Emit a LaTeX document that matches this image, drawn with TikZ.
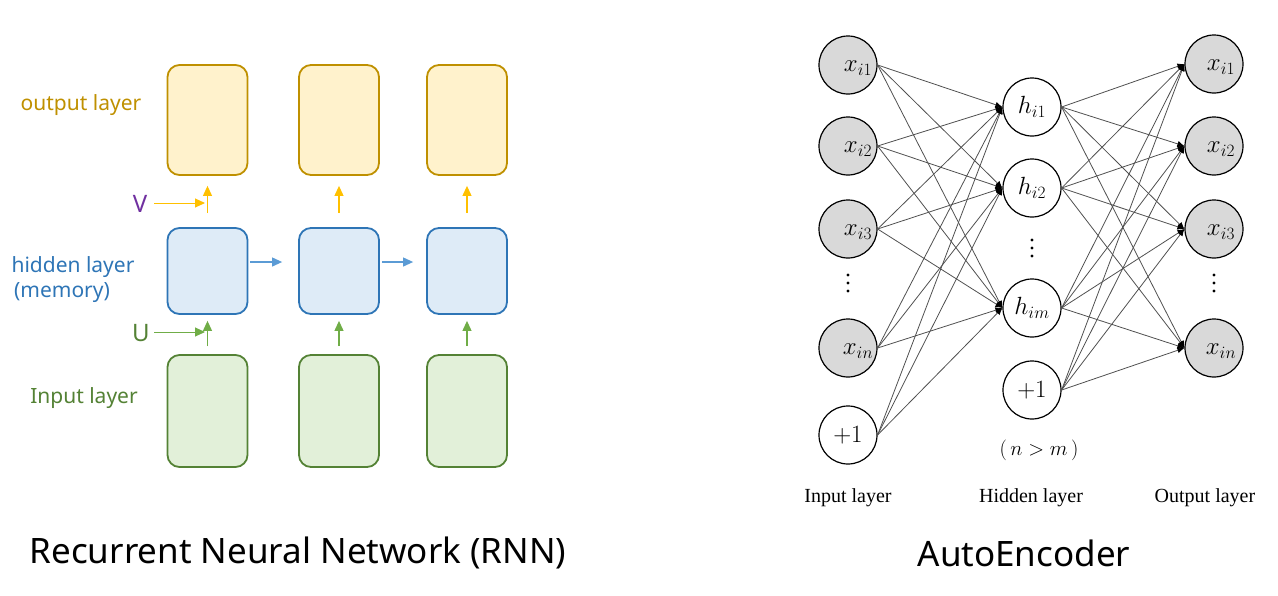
\documentclass[tikz,border=0pt]{standalone}
\usepackage{fontspec}
\setmainfont{Noto Sans}
\newfontfamily\aeserif{Liberation Serif}
\usetikzlibrary{arrows.meta}
\definecolor{outfill}{HTML}{FFF2CC}
\definecolor{outdraw}{HTML}{BF9000}
\definecolor{outarrow}{HTML}{FFC000}
\definecolor{hidfill}{HTML}{DEEBF7}
\definecolor{hiddraw}{HTML}{2E75B6}
\definecolor{hidarrow}{HTML}{5B9BD5}
\definecolor{infill}{HTML}{E2F0D9}
\definecolor{indraw}{HTML}{548235}
\definecolor{inarrow}{HTML}{70AD47}
\definecolor{vcol}{HTML}{7030A0}
\definecolor{aegray}{HTML}{D9D9D9}
\definecolor{aeline}{HTML}{505050}
\begin{document}
\begin{tikzpicture}[x=1pt,y=-1pt,
  box/.style={draw, line width=1.8pt, rounded corners=12pt, minimum width=80pt, inner sep=0pt},
  outbox/.style={box, fill=outfill, draw=outdraw, minimum height=110pt},
  hidbox/.style={box, fill=hidfill, draw=hiddraw, minimum height=86pt},
  inbox/.style={box, fill=infill, draw=indraw, minimum height=112pt},
  rarrow/.style={line width=1.1pt, -{Triangle[length=10pt,width=9pt]}},
  lbl/.style={font=\fontsize{21}{24}\selectfont, align=center},
  neuron/.style={circle, draw, line width=1.2pt, minimum size=58pt, inner sep=0pt, font=\fontsize{25}{28}\selectfont},
  inneuron/.style={neuron, fill=aegray},
  every label/.style={font=\fontsize{25}{28}\selectfont, inner sep=0pt},
  conn/.style={draw=aeline, line width=0.8pt, -{Latex[length=7pt,width=6pt,color=black]}},
  aelbl/.style={font=\aeserif\fontsize{20}{24}\selectfont},
  title/.style={font=\fontsize{35}{40}\selectfont}
]
\useasboundingbox (0,0) rectangle (1278,595);

% ---------------- RNN ----------------
\foreach \i/\x in {1/207.5, 2/339, 3/467} {
  \node[outbox] (out\i) at (\x,120) {};
  \node[hidbox] (hid\i) at (\x,271) {};
  \node[inbox]  (in\i)  at (\x,411) {};
  \draw[rarrow, draw=outarrow, fill=outarrow] ([yshift=14pt]hid\i.north) -- ([yshift=-10pt]out\i.south);
  \draw[rarrow, draw=inarrow, fill=inarrow] ([yshift=8pt]in\i.north) -- ([yshift=-6pt]hid\i.south);
}
\draw[rarrow, draw=hidarrow, fill=hidarrow] ([xshift=2pt,yshift=9pt]hid1.east) -- ([xshift=-16pt,yshift=9pt]hid2.west);
\draw[rarrow, draw=hidarrow, fill=hidarrow] ([xshift=2pt,yshift=9pt]hid2.east) -- ([xshift=-13pt,yshift=9pt]hid3.west);

\node[lbl, text=outdraw] (outlbl) at (81,105) {output layer};
\node[lbl, text=hiddraw] (hidlbl) at (73,267) {hidden layer};
\node[lbl, text=hiddraw] (memlbl) at (62,293) {(memory)};
\node[lbl, text=indraw] (inlbl) at (84,398) {Input layer};

\node[font=\fontsize{24}{26}\selectfont\bfseries, text=vcol] (vlab) at (140,204) {V};
\coordinate (vend) at (205,203);
\draw[line width=1pt, draw=outarrow, fill=outarrow, -{Triangle[length=10pt,width=9pt]}] (154,203) -- (vend);
\node[font=\fontsize{24}{26}\selectfont\bfseries, text=indraw] (ulab) at (141,333) {U};
\coordinate (uend) at (205,332);
\draw[line width=1pt, draw=inarrow, fill=inarrow, -{Triangle[length=10pt,width=9pt]}] (154,332) -- (uend);

\node[title] (rnntitle) at (298,553) {Recurrent Neural Network (RNN)};

% ---------------- AutoEncoder ----------------
\node[inneuron, label={[xshift=10pt,yshift=-3pt]center:$x_{i1}$}] (x1) at (848,65) {};
\node[inneuron, label={[xshift=10pt,yshift=-3pt]center:$x_{i2}$}] (x2) at (848,146) {};
\node[inneuron, label={[xshift=10pt,yshift=-3pt]center:$x_{i3}$}] (x3) at (848,229) {};
\node[inneuron, label={[xshift=10pt,yshift=-3pt]center:$x_{in}$}] (xn) at (848,348) {};
\node[neuron] (xb) at (848,435) {$+1$};

\node[neuron] (h1) at (1032,107) {$h_{i1}$};
\node[neuron] (h2) at (1032,188) {$h_{i2}$};
\node[neuron] (hm) at (1032,308) {$h_{im}$};
\node[neuron] (hb) at (1032,390) {$+1$};

\node[inneuron, label={[xshift=7pt,yshift=-3pt]center:$x_{i1}$}] (y1) at (1214,64) {};
\node[inneuron, label={[xshift=7pt,yshift=-3pt]center:$x_{i2}$}] (y2) at (1214,146) {};
\node[inneuron, label={[xshift=7pt,yshift=-3pt]center:$x_{i3}$}] (y3) at (1214,229) {};
\node[inneuron, label={[xshift=7pt,yshift=-3pt]center:$x_{in}$}] (yn) at (1214,348) {};

% vertical ellipses
\foreach \cx/\cy in {848/283, 1032/248, 1214/283} {
  \foreach \d in {-8,0,8} {
    \fill (\cx,\cy+\d) circle (1.6pt);
  }
}

\foreach \s in {x1,x2,x3,xn,xb} {
  \foreach \t in {h1,h2,hm} {
    \draw[conn] (\s.east) -- (\t.west);
  }
}
\foreach \s in {h1,h2,hm,hb} {
  \foreach \t in {y1,y2,y3,yn} {
    \draw[conn] (\s.east) -- (\t.west);
  }
}

\node[font=\fontsize{20}{22}\selectfont] (nm) at (1039,450) {$(\,n>m\,)$};
\node[aelbl] (ail) at (848,498) {Input layer};
\node[aelbl] (ahl) at (1031,498) {Hidden layer};
\node[aelbl] (aol) at (1205,498) {Output layer};

\node[title] (aetitle) at (1024,553) {AutoEncoder};
\end{tikzpicture}
\end{document}
